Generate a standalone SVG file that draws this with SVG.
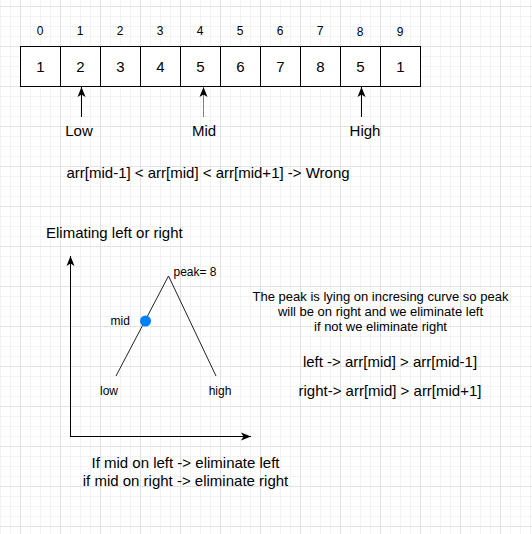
<svg xmlns="http://www.w3.org/2000/svg" width="532" height="534" viewBox="0 0 532 534">
<style>
text{font-family:"Liberation Sans",Arial,sans-serif;fill:#000}
.idx{font-size:12px;text-anchor:middle}
.val{font-size:15px;text-anchor:middle}
.lbl{font-size:15px;text-anchor:middle}
.sm{font-size:12px}
.note{font-size:13px;text-anchor:middle}
.mid{text-anchor:middle}
.cell{fill:#fff;stroke:#000;stroke-width:1}
.conn{stroke:#000;stroke-width:1;fill:none}
.curve{stroke:#222;stroke-width:1;fill:none}
</style>
<defs>
<pattern id="minor" patternUnits="userSpaceOnUse" x="0" y="6" width="10" height="10">
<rect x="0" y="0" width="10" height="1" fill="#f3f3f3"/>
<rect x="0" y="0" width="1" height="10" fill="#f3f3f3"/>
</pattern>
<pattern id="major" patternUnits="userSpaceOnUse" x="20" y="6" width="40" height="40">
<rect x="0" y="0" width="40" height="1" fill="#e2e2e2"/>
<rect x="0" y="0" width="1" height="40" fill="#e2e2e2"/>
</pattern>
<marker id="arr" markerUnits="userSpaceOnUse" markerWidth="10" markerHeight="10" viewBox="0 0 10 10" refX="10" refY="5" orient="auto">
<path d="M0,1 L10,5 L0,9 L2.5,5 Z" fill="#000"/>
</marker>
</defs>
<rect width="532" height="534" fill="#fff"/>
<rect width="532" height="534" fill="url(#minor)"/>
<rect width="532" height="534" fill="url(#major)"/>

<g id="array">
<g id="cell0"><rect class="cell" x="20.5" y="46.5" width="40" height="40"/><text class="idx" x="40" y="35">0</text><text class="val" x="40.5" y="72">1</text></g>
<g id="cell1"><rect class="cell" x="60.5" y="46.5" width="40" height="40"/><text class="idx" x="80" y="35">1</text><text class="val" x="80.5" y="72">2</text></g>
<g id="cell2"><rect class="cell" x="100.5" y="46.5" width="40" height="40"/><text class="idx" x="120" y="35">2</text><text class="val" x="120.5" y="72">3</text></g>
<g id="cell3"><rect class="cell" x="140.5" y="46.5" width="40" height="40"/><text class="idx" x="160" y="35">3</text><text class="val" x="160.5" y="72">4</text></g>
<g id="cell4"><rect class="cell" x="180.5" y="46.5" width="40" height="40"/><text class="idx" x="200" y="35">4</text><text class="val" x="200.5" y="72">5</text></g>
<g id="cell5"><rect class="cell" x="220.5" y="46.5" width="40" height="40"/><text class="idx" x="240" y="35">5</text><text class="val" x="240.5" y="72">6</text></g>
<g id="cell6"><rect class="cell" x="260.5" y="46.5" width="40" height="40"/><text class="idx" x="280" y="35">6</text><text class="val" x="280.5" y="72">7</text></g>
<g id="cell7"><rect class="cell" x="300.5" y="46.5" width="40" height="40"/><text class="idx" x="320" y="35">7</text><text class="val" x="320.5" y="72">8</text></g>
<g id="cell8"><rect class="cell" x="340.5" y="46.5" width="40" height="40"/><text class="idx" x="360" y="36">8</text><text class="val" x="360.5" y="72">5</text></g>
<g id="cell9"><rect class="cell" x="380.5" y="46.5" width="40" height="40"/><text class="idx" x="400" y="36">9</text><text class="val" x="400.5" y="72">1</text></g>
</g>

<g id="connectors">
<line class="conn" x1="81.5" y1="117" x2="81.5" y2="87" marker-end="url(#arr)"/>
<line class="conn" x1="203.5" y1="117" x2="203.5" y2="87" style="stroke:#808080" marker-end="url(#arr)"/>
<line class="conn" x1="361.5" y1="117" x2="361.5" y2="87" marker-end="url(#arr)"/>
<line class="conn" x1="70.5" y1="437" x2="70.5" y2="256" marker-end="url(#arr)"/>
<line class="conn" x1="70" y1="436.5" x2="251" y2="436.5" marker-end="url(#arr)"/>
</g>

<g id="labels">
<text class="lbl" x="79" y="136">Low</text>
<text class="lbl" x="204" y="136">Mid</text>
<text class="lbl" x="365" y="136">High</text>
<text style="font-size:15px" x="66.5" y="177.5">arr[mid-1] &lt; arr[mid] &lt; arr[mid+1] -&gt; Wrong</text>
<text style="font-size:15px" x="46" y="237.5">Elimating left or right</text>
</g>

<g id="graph">
<polyline class="curve" points="116,376 168.5,276 216,376"/>
<circle id="mid-dot" cx="145.5" cy="321" r="5.5" fill="#007fff"/>
<text class="sm" x="173.5" y="275.5">peak= 8</text>
<text class="sm" x="110.5" y="324.5">mid</text>
<text class="sm mid" x="109" y="395">low</text>
<text class="sm mid" x="220" y="395">high</text>
</g>

<g id="explanation">
<text class="note" x="380.5" y="300.5">The peak is lying on incresing curve so peak</text>
<text class="note" x="380.5" y="316">will be on right and we eliminate left</text>
<text class="note" x="380.5" y="330.5">if not we eliminate right</text>
<text class="lbl" x="390" y="367">left -&gt; arr[mid] &gt; arr[mid-1]</text>
<text class="lbl" x="390" y="395.5">right-&gt; arr[mid] &gt; arr[mid+1]</text>
</g>

<g id="summary">
<text class="lbl" x="185.5" y="468">If mid on left -&gt; eliminate left</text>
<text class="lbl" x="185.5" y="486">if mid on right -&gt; eliminate right</text>
</g>
</svg>
